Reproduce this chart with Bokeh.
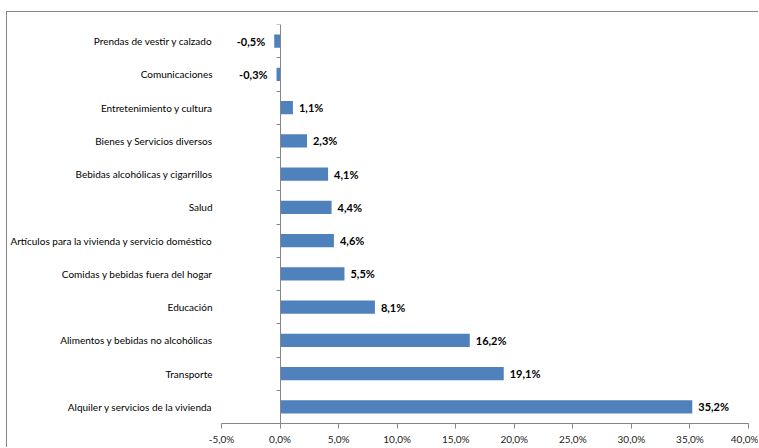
from bokeh.plotting import figure
from bokeh.models import ColumnDataSource, FixedTicker, LinearAxis, Range1d
from bokeh.core.properties import value
from bokeh.embed import file_html
from bokeh.resources import INLINE

categories = [
    "Prendas de vestir y calzado",
    "Comunicaciones",
    "Entretenimiento y cultura",
    "Bienes y Servicios diversos",
    "Bebidas alcohólicas y cigarrillos",
    "Salud",
    "Artículos para la vivienda y servicio doméstico",
    "Comidas y bebidas fuera del hogar",
    "Educación",
    "Alimentos y bebidas no alcohólicas",
    "Transporte",
    "Alquiler y servicios de la vivienda",
]
values = [-0.5, -0.3, 1.1, 2.3, 4.1, 4.4, 4.6, 5.5, 8.1, 16.2, 19.1, 35.2]
x_ticks = [-5, 0, 5, 10, 15, 20, 25, 30, 35, 40]
x_tick_labels = ["-5,0%", "0,0%", "5,0%", "10,0%", "15,0%", "20,0%", "25,0%", "30,0%", "35,0%", "40,0%"]

n = len(categories)
centers = [n - 0.5 - i for i in range(n)]
boundaries = list(range(n + 1))
labels = [(f"{v:.1f}".replace(".", ",") + "%") for v in values]
aligns = ["left" if v >= 0 else "right" for v in values]
offsets = [6 if v >= 0 else -9 for v in values]

src = ColumnDataSource(dict(y=centers, v=values, lab=labels, al=aligns, off=offsets))

FONT = "Lato"
GRAY = "#868686"

# chart area starts at (7, 12) in the window, after a 1px border at (6, 11)
p = figure(width=752, height=436, output_backend="svg", toolbar_location=None,
           x_range=Range1d(-5, 40), y_range=Range1d(0, n),
           min_border_left=214, min_border_right=11, min_border_top=12, min_border_bottom=25)
p.margin = (11, 0, 0, 6)
p.styles = {"border-top": "1px solid " + GRAY, "border-left": "1px solid " + GRAY}
p.outline_line_color = None
p.xgrid.visible = False
p.ygrid.visible = False
p.background_fill_color = "white"
p.border_fill_color = "white"

p.hbar(y="y", right="v", left=0, height=0.4, source=src, fill_color="#4F81BD", line_color=None)
p.text(x="v", y="y", text="lab", text_align="al", x_offset="off", text_baseline="middle",
       text_font=value(FONT), text_font_style="bold", text_font_size="11px", text_color="black", source=src)

# x axis
xa = p.xaxis[0]
xa.ticker = FixedTicker(ticks=x_ticks, minor_ticks=[])
xa.major_label_overrides = {t: s for t, s in zip(x_ticks, x_tick_labels)}
xa.axis_line_color = GRAY
xa.major_tick_line_color = GRAY
xa.major_tick_out = 5
xa.major_tick_in = 0
xa.major_label_text_font = FONT
xa.major_label_text_font_size = "10px"
xa.major_label_text_color = "#222222"
xa.major_label_standoff = 4

# category label axis (at frame left)
ya = p.yaxis[0]
ya.ticker = FixedTicker(ticks=centers, minor_ticks=[])
ya.major_label_overrides = {c: s for c, s in zip(centers, categories)}
ya.axis_line_color = None
ya.major_tick_line_color = None
ya.minor_tick_line_color = None
ya.major_tick_out = 0
ya.major_tick_in = 0
ya.major_label_standoff = 9
ya.major_label_text_font = FONT
ya.major_label_text_font_size = "10px"
ya.major_label_text_color = "black"

# vertical axis line at zero with category separator ticks
za = LinearAxis(fixed_location=0, ticker=FixedTicker(ticks=[], minor_ticks=boundaries))
za.axis_line_color = GRAY
za.minor_tick_line_color = GRAY
za.minor_tick_out = 4
za.minor_tick_in = 0
za.major_tick_line_color = None
za.major_label_text_font_size = "0px"
p.add_layout(za, "left")

open("out.html", "w").write(file_html(p, INLINE))
